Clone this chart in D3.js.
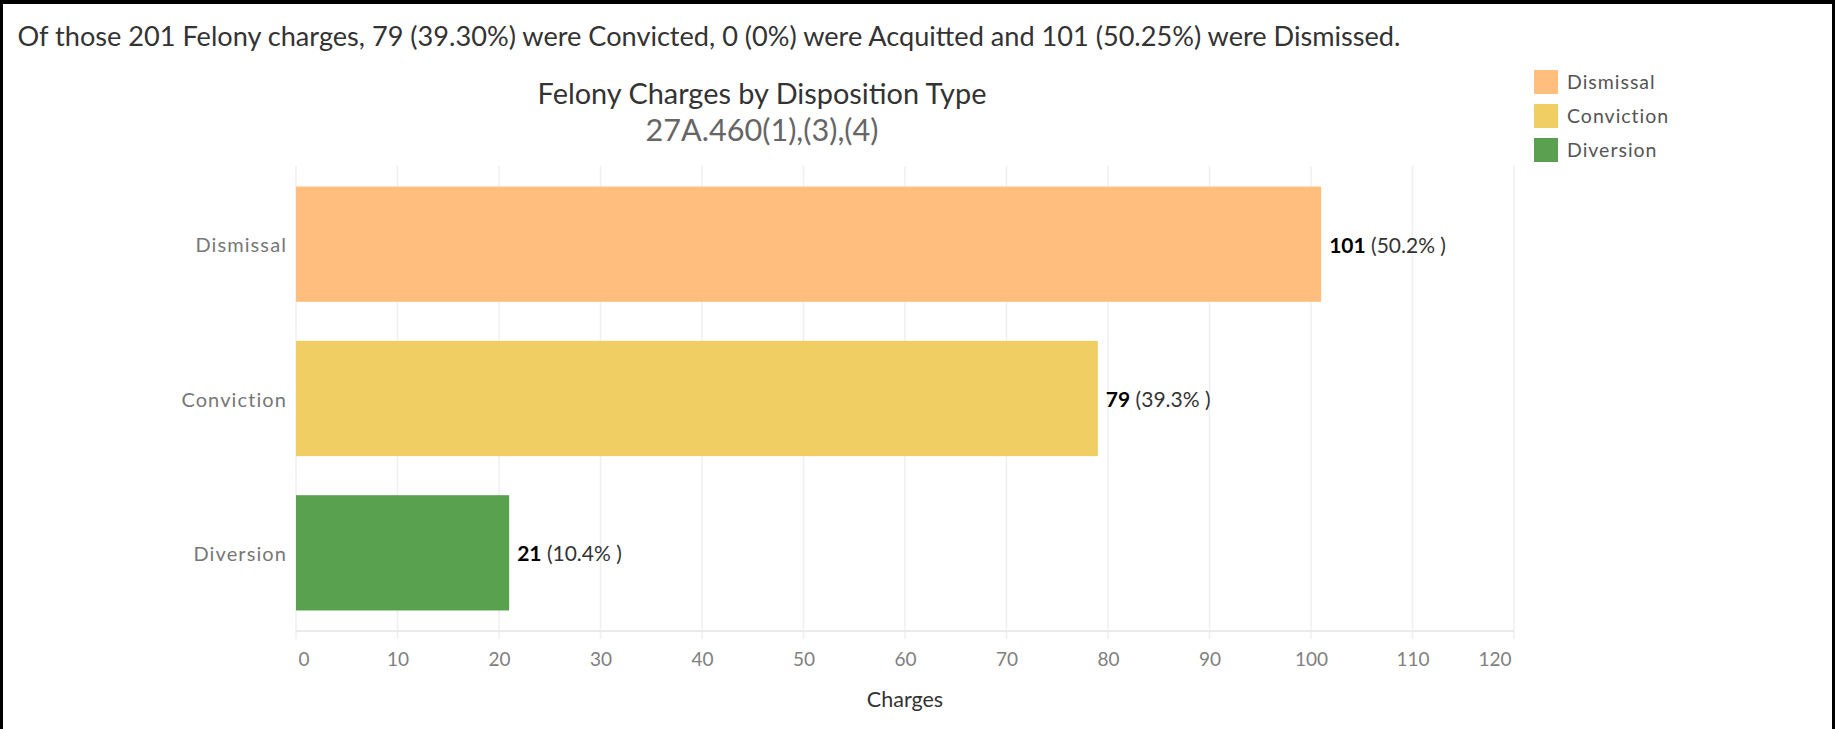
<!DOCTYPE html>
<html>
<head>
<meta charset="utf-8">
<script src="https://cdn.jsdelivr.net/npm/d3@7"></script>
<style>
  html, body { margin: 0; padding: 0; background: #fff; }
  svg { display: block; }
  text { font-family: Lato, "Open Sans", sans-serif; }
</style>
</head>
<body>
<svg id="chart" width="1835" height="729"></svg>
<script>
// ---- data ----
const categories = ["Dismissal", "Conviction", "Diversion"];
const charges = [101, 79, 21];
const pctLabels = ["50.2%", "39.3%", "10.4%"];
const colors = ["#FFBE7D", "#F1CE63", "#59A14F"];
const xTicks = [0, 10, 20, 30, 40, 50, 60, 70, 80, 90, 100, 110, 120];
const headline = "Of those 201 Felony charges, 79 (39.30%) were Convicted, 0 (0%) were Acquitted and 101 (50.25%) were Dismissed.";
const title = "Felony Charges by Disposition Type";
const subtitle = "27A.460(1),(3),(4)";
const xTitle = "Charges";

const W = 1835, H = 729;
const svg = d3.select("#chart");

function fitWidth(sel, target) {
  const node = sel.node();
  const fs = parseFloat(sel.attr("font-size"));
  const w = node.getComputedTextLength();
  sel.attr("font-size", (fs * target / w).toFixed(2));
}

// border
svg.append("rect").attr("x", 0).attr("y", 0).attr("width", 3).attr("height", H).attr("fill", "#000");
svg.append("rect").attr("x", 0).attr("y", 0).attr("width", W).attr("height", 4).attr("fill", "#000");
svg.append("rect").attr("x", 1832).attr("y", 0).attr("width", 3).attr("height", H).attr("fill", "#000");

// headline
const hl = svg.append("text").attr("x", 17.5).attr("y", 46).attr("font-size", 22)
  .attr("fill", "#333").text(headline);
fitWidth(hl, 1383);

// titles
const t1 = svg.append("text").attr("x", 762).attr("y", 104).attr("text-anchor", "middle")
  .attr("font-size", 24).attr("fill", "#333").text(title);
fitWidth(t1, 449);
const t2 = svg.append("text").attr("x", 762).attr("y", 141).attr("text-anchor", "middle")
  .attr("font-size", 24).attr("fill", "#666").text(subtitle);
fitWidth(t2, 233);

// scales
const x = d3.scaleLinear().domain([0, 120]).range([296, 1514]);
const y = d3.scaleBand().domain(categories).range([167, 630]).paddingInner(0.253).paddingOuter(0.1265);
const axisY = 631;

// gridlines
svg.append("g").selectAll("line").data(xTicks).join("line")
  .attr("x1", d => x(d)).attr("x2", d => x(d))
  .attr("y1", 166).attr("y2", axisY + 8)
  .attr("stroke", "#efefef").attr("stroke-width", 1.5);

// axis baseline
svg.append("line").attr("x1", x(0)).attr("x2", x(120)).attr("y1", axisY).attr("y2", axisY)
  .attr("stroke", "#eaeaea").attr("stroke-width", 2);

// x axis tick labels
const xAxis = d3.axisBottom(x).tickValues(xTicks).tickSize(0).tickPadding(0);
const gx = svg.append("g").attr("transform", `translate(0,${axisY})`).call(xAxis);
gx.select(".domain").remove();
gx.selectAll("text")
  .attr("font-family", "Lato, 'Open Sans', sans-serif")
  .attr("font-size", 19).attr("fill", "#808080").attr("dy", 0).attr("y", 35)
  .attr("text-anchor", (d, i) => i === 0 ? "start" : (i === xTicks.length - 1 ? "end" : "middle"))
  .attr("dx", (d, i) => i === 0 ? 2 : (i === xTicks.length - 1 ? -3 : 0));

// axis title
svg.append("text").attr("x", (x(0) + x(120)) / 2).attr("y", 707).attr("text-anchor", "middle")
  .attr("font-size", 21.5).attr("fill", "#333").text(xTitle);

// y axis labels
const yAxis = d3.axisLeft(y).tickSize(0).tickPadding(9);
const gy = svg.append("g").attr("transform", `translate(${x(0)},0)`).call(yAxis);
gy.select(".domain").remove();
gy.selectAll("text").attr("font-family", "Lato, 'Open Sans', sans-serif")
  .attr("font-size", 20).attr("fill", "#777").attr("letter-spacing", 1.1).attr("dy", "0.4em");

// bars
const rows = categories.map((c, i) => ({ c, v: charges[i], p: pctLabels[i], col: colors[i] }));
svg.append("g").selectAll("rect").data(rows).join("rect")
  .attr("x", x(0)).attr("y", d => y(d.c))
  .attr("width", d => x(d.v) - x(0)).attr("height", y.bandwidth())
  .attr("fill", d => d.col);

// value labels
const lbl = svg.append("g").selectAll("text").data(rows).join("text")
  .attr("x", d => x(d.v) + 8).attr("y", d => y(d.c) + y.bandwidth() / 2)
  .attr("dy", "0.4em").attr("font-size", 21);
lbl.append("tspan").attr("font-weight", "bold").attr("fill", "#000").text(d => d.v);
lbl.append("tspan").attr("fill", "#333").text(d => " (" + d.p + " )");

// legend
const lg = svg.append("g").selectAll("g").data(rows).join("g")
  .attr("transform", (d, i) => `translate(1534,${70 + i * 34})`);
lg.append("rect").attr("width", 24).attr("height", 24).attr("fill", d => d.col);
lg.append("text").attr("x", 33).attr("y", 12).attr("dy", "0.38em")
  .attr("font-size", 19.5).attr("fill", "#555").attr("letter-spacing", 1).text(d => d.c);
</script>
</body>
</html>
